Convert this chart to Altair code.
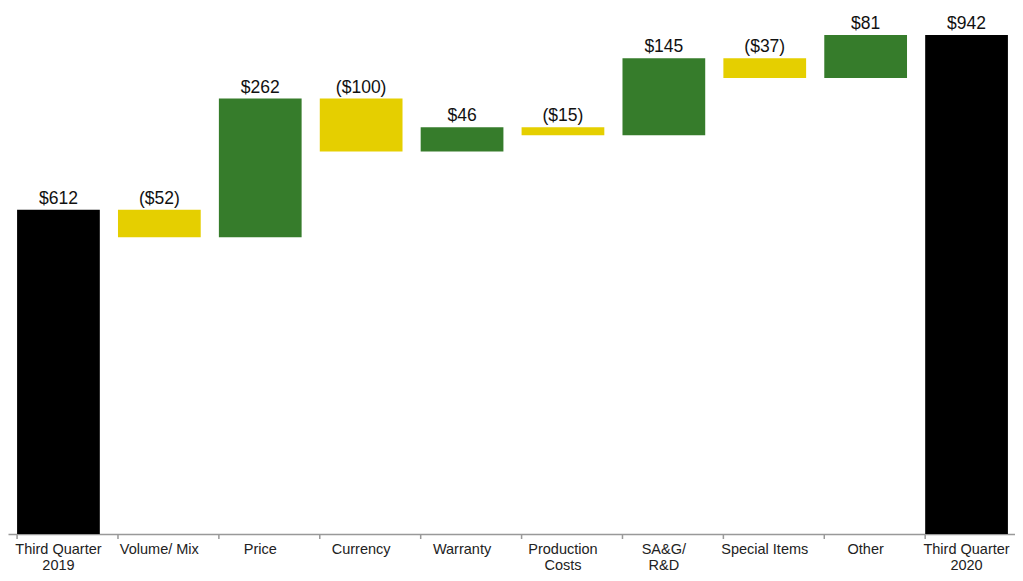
import altair as alt
import pandas as pd

categories = ["Third Quarter|2019", "Volume/ Mix", "Price", "Currency", "Warranty",
              "Production|Costs", "SA&G/|R&D", "Special Items", "Other", "Third Quarter|2020"]
values = [612, -52, 262, -100, 46, -15, 145, -37, 81, 942]
kinds = ["total", "delta", "delta", "delta", "delta", "delta", "delta", "delta", "delta", "total"]
labels = ["$612", "($52)", "$262", "($100)", "$46", "($15)", "$145", "($37)", "$81", "$942"]

rows = []
running = 0
for cat, v, k, lab in zip(categories, values, kinds, labels):
    if k == "total":
        start, end = 0, v
        running = v
        color = "total"
    else:
        start, end = running, running + v
        running = end
        color = "up" if v >= 0 else "down"
    rows.append({"cat": cat, "start": start, "end": end, "top": max(start, end),
                 "color": color, "label": lab})
df = pd.DataFrame(rows)

W, H = 1007, 526
xscale = alt.Scale(paddingInner=0.18, paddingOuter=0.09, range=[0, 1009])
xenc = alt.X("cat:N", sort=categories, scale=xscale, title=None,
             axis=alt.Axis(labelAngle=0, ticks=False, domainColor="#999999", domainWidth=1.5,
                           labelFont="Liberation Sans", labelFontSize=14.5, labelColor="#222222",
                           labelPadding=8, labelLineHeight=16.5, labelLimit=200,
                           labelExpr="split(datum.label, '|')"))
yscale = alt.Scale(domain=[0, 993], nice=False)

base = alt.Chart(df)
bars = base.mark_bar().encode(
    x=xenc,
    y=alt.Y("start:Q", scale=yscale, axis=None),
    y2="end:Q",
    color=alt.Color("color:N", scale=alt.Scale(domain=["total", "up", "down"],
                                               range=["#000000", "#367C2B", "#E5CF00"]), legend=None),
)
text = base.mark_text(baseline="alphabetic", dy=-6, font="Liberation Sans", fontSize=17.5,
                      color="#111111").encode(
    x=alt.X("cat:N", sort=categories, scale=xscale),
    y=alt.Y("top:Q", scale=yscale),
    text="label:N",
)
ticks = base.mark_rule(color="#999999", strokeWidth=1.5).encode(
    x=alt.X("cat:N", sort=categories, scale=xscale, bandPosition=0),
    y=alt.value(H),
    y2=alt.value(H + 5),
)

chart = alt.layer(bars, text, ticks).properties(
    width=W, height=H,
    padding={"left": 0, "top": 0, "right": 0, "bottom": 39},
    autosize=alt.AutoSizeParams(type="none"),
).configure_view(stroke=None)

chart.save("out.html", embed_options={"renderer": "svg", "actions": False})
